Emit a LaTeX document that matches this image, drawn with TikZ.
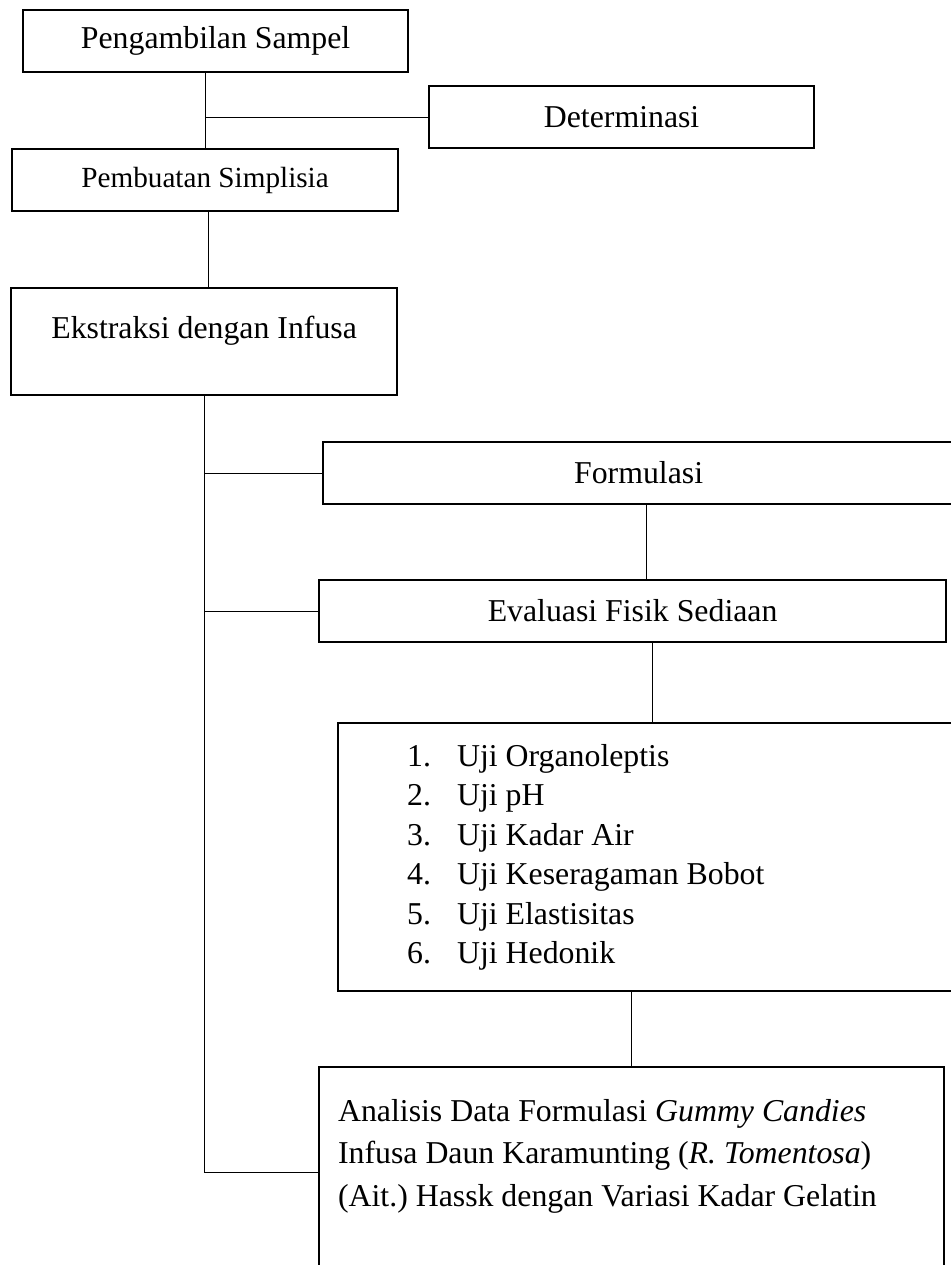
\documentclass[tikz,border=0pt]{standalone}
\usepackage{fontspec}
\setmainfont{Liberation Serif}
\usepackage{tikz}
\frenchspacing

\begin{document}
\begin{tikzpicture}[%
    x=0.5pt,
    y=-0.5pt,
    kotak/.style={%
      draw,
      line width=1.1pt,
      anchor=north west,
      inner sep=0pt,
      minimum height=31pt,
      font=\fontsize{15.9pt}{19pt}\selectfont
    },
    daftar/.style={%
      kotak,
      align=flush left,
      execute at begin node={\spaceskip=0pt\xspaceskip=0pt\relax}
    },
    garis/.style={%
      line width=0.6pt
    }
  ]
    \useasboundingbox (0,0) rectangle (950,1265);

    \node[kotak, minimum width=192.5pt] (sampel)      at (22,9)   {Pengambilan Sampel};
    \node[kotak, minimum width=192.5pt] (determinasi) at (428,85) {Determinasi};
    \node[kotak, minimum width=193pt, font=\fontsize{14.6pt}{17pt}\selectfont] (simplisia) at (11,148) {Pembuatan Simplisia};
    \node[kotak, minimum width=193pt, text height=25pt, text depth=28.5pt] (infusa) at (10,287) {Ekstraksi dengan Infusa};
    \node[kotak, minimum width=315.5pt] (formulasi) at (322,441) {Formulasi};
    \node[kotak, minimum width=313.5pt] (evaluasi)  at (318,579) {Evaluasi Fisik Sediaan};
    \node[daftar, text width=240pt, inner xsep=34.5pt, minimum height=134pt,
          font=\fontsize{15.9pt}{19.75pt}\selectfont] (uji) at (337,722)
      {\makebox[25pt][l]{1.}Uji Organoleptis\\
       \makebox[25pt][l]{2.}Uji pH\\
       \makebox[25pt][l]{3.}Uji Kadar Air\\
       \makebox[25pt][l]{4.}Uji Keseragaman Bobot\\
       \makebox[25pt][l]{5.}Uji Elastisitas\\
       \makebox[25pt][l]{6.}Uji Hedonik};
    \node[daftar, text width=293.5pt, inner xsep=9.5pt, inner ysep=16pt, text depth=62pt,
          font=\fontsize{15.9pt}{21.25pt}\selectfont] (analisis) at (318,1066)
      {Analisis Data Formulasi \textit{Gummy Candies}\\
       Infusa Daun Karamunting (\textit{R. Tomentosa})\\
       (Ait.) Hassk dengan Variasi Kadar Gelatin};

    \draw[garis] (simplisia.north |- sampel.south) -- (simplisia.north);
    \draw[garis] (simplisia.north |- determinasi.west) -- (determinasi.west);
    \draw[garis] ([xshift=1.5pt]simplisia.south) -- ([xshift=1.5pt]simplisia.south |- infusa.north);
    \draw[garis] (infusa.south) -- (infusa.south |- analisis.west);
    \foreach \n in {formulasi, evaluasi, analisis}
      \draw[garis] (infusa.south |- \n.west) -- (\n.west);
    \draw[garis] ([xshift=4pt]formulasi.south) -- ([xshift=4pt]formulasi.south |- evaluasi.north);
    \draw[garis] ([xshift=10pt]evaluasi.south) -- ([xshift=10pt]evaluasi.south |- uji.north);
    \draw[garis] (uji.south -| analisis.north) -- (analisis.north);
  \end{tikzpicture}
\end{document}
